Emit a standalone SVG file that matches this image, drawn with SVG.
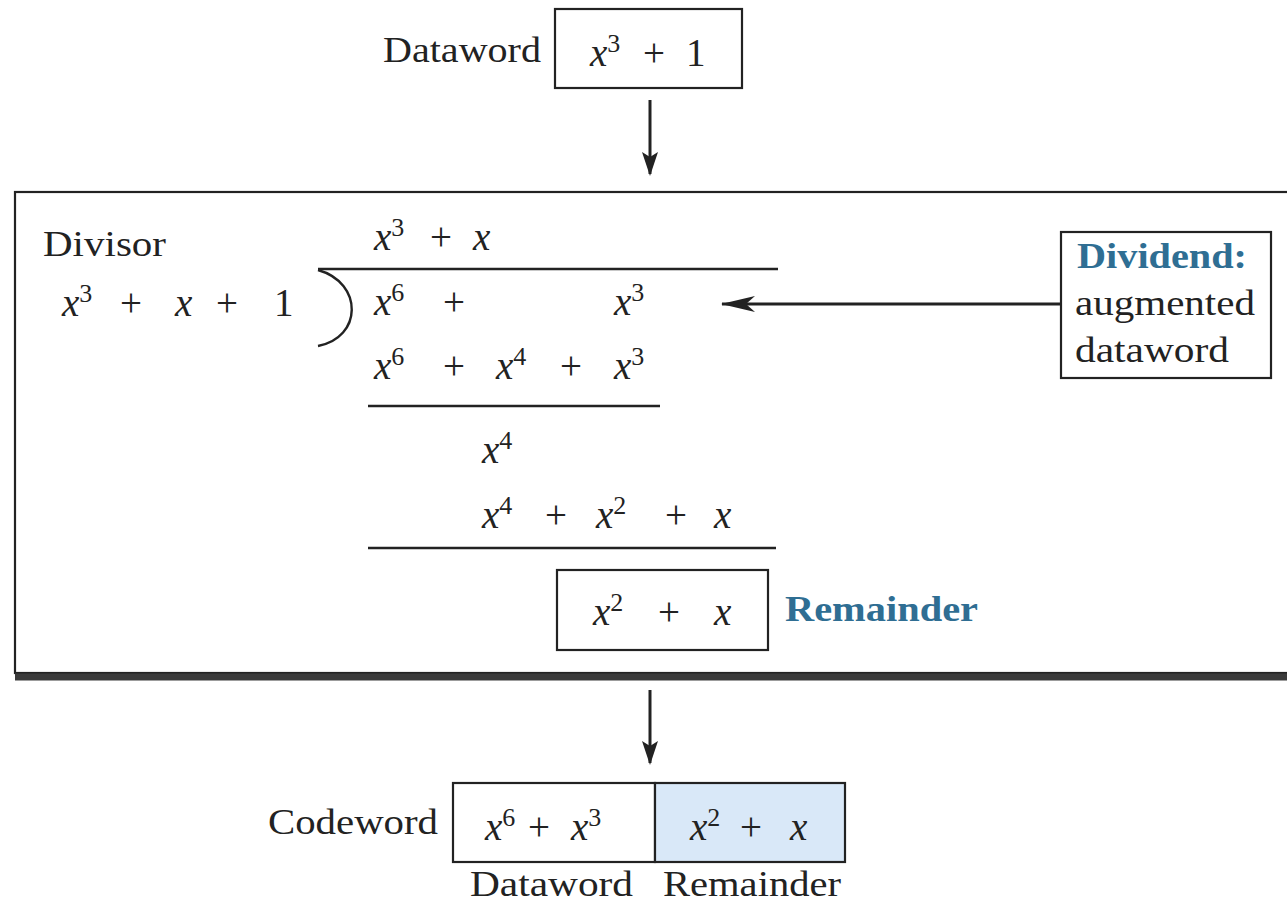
<svg xmlns="http://www.w3.org/2000/svg" width="1287" height="904" viewBox="0 0 1287 904">
  <defs>
    <style>
      .lbl { font-family: "Liberation Serif", "Times New Roman", serif; font-size: 36px; fill: #222222; }
      .hl { font-family: "Liberation Serif", "Times New Roman", serif; font-size: 36px; font-weight: bold; fill: #2f6e93; }
      .m { font-family: "Liberation Serif", "Times New Roman", serif; font-size: 39px; fill: #222222; }
      .v { font-style: italic; }
      .sup { font-size: 26px; }
      .box { fill: #ffffff; stroke: #222222; stroke-width: 2.2; }
      .rule { stroke: #222222; stroke-width: 2.4; fill: none; }
      .conn { stroke: #222222; stroke-width: 3; fill: none; }
    </style>
    <marker id="ah" viewBox="0 0 24 18" refX="22" refY="9" markerWidth="24" markerHeight="18" markerUnits="userSpaceOnUse" orient="auto">
      <path d="M0,1 L24,9 L0,17 L5,9 Z" fill="#222222"/>
    </marker>
    <marker id="ahl" viewBox="0 0 34 20" refX="33" refY="10" markerWidth="34" markerHeight="20" markerUnits="userSpaceOnUse" orient="auto">
      <path d="M0,2 L34,10 L0,18 L9,10 Z" fill="#222222"/>
    </marker>
  </defs>

  <rect width="1287" height="904" fill="#ffffff"/>

  <!-- input dataword -->
  <g id="dataword">
    <text class="lbl" x="383" y="62" textLength="158" lengthAdjust="spacingAndGlyphs">Dataword</text>
    <rect class="box" x="555" y="9" width="187" height="79"/>
    <text class="m" x="590" y="66"><tspan class="v">x</tspan><tspan class="sup" dy="-14">3</tspan><tspan dy="14" x="643">+</tspan><tspan x="686">1</tspan></text>
  </g>

  <!-- division panel -->
  <g id="division">
    <rect x="15" y="192" width="1290" height="481" fill="#ffffff" stroke="#222222" stroke-width="2.2"/>
    <line x1="15" y1="677" x2="1287" y2="677" stroke="#3a3a3a" stroke-width="7"/>

    <text class="lbl" x="43" y="256" textLength="123" lengthAdjust="spacingAndGlyphs">Divisor</text>
    <text class="m" x="62" y="316"><tspan class="v">x</tspan><tspan class="sup" dy="-14">3</tspan><tspan dy="14" x="120">+</tspan><tspan class="v" x="175">x</tspan><tspan x="216">+</tspan><tspan x="274">1</tspan></text>

    <!-- long-division bracket -->
    <path class="rule" d="M318,270 C364,283 362,338 318,346" stroke-width="3"/>
    <line class="rule" x1="318" y1="269" x2="778" y2="269"/>

    <!-- quotient -->
    <text class="m" x="374" y="250"><tspan class="v">x</tspan><tspan class="sup" dy="-14">3</tspan><tspan dy="14" x="430">+</tspan><tspan class="v" x="473">x</tspan></text>

    <!-- dividend row -->
    <text class="m" x="374" y="315"><tspan class="v">x</tspan><tspan class="sup" dy="-14">6</tspan><tspan dy="14" x="443">+</tspan><tspan class="v" x="614">x</tspan><tspan class="sup" dy="-14">3</tspan></text>

    <!-- first subtraction -->
    <text class="m" x="374" y="379"><tspan class="v">x</tspan><tspan class="sup" dy="-14">6</tspan><tspan dy="14" x="443">+</tspan><tspan class="v" x="496">x</tspan><tspan class="sup" dy="-14">4</tspan><tspan dy="14" x="560">+</tspan><tspan class="v" x="614">x</tspan><tspan class="sup" dy="-14">3</tspan></text>
    <line class="rule" x1="368" y1="406" x2="660" y2="406"/>

    <text class="m" x="482" y="463"><tspan class="v">x</tspan><tspan class="sup" dy="-14">4</tspan></text>

    <!-- second subtraction -->
    <text class="m" x="482" y="528"><tspan class="v">x</tspan><tspan class="sup" dy="-14">4</tspan><tspan dy="14" x="545">+</tspan><tspan class="v" x="596">x</tspan><tspan class="sup" dy="-14">2</tspan><tspan dy="14" x="665">+</tspan><tspan class="v" x="714">x</tspan></text>
    <line class="rule" x1="368" y1="548" x2="776" y2="548"/>
  </g>

  <g id="remainder">
    <rect class="box" x="557" y="570" width="211" height="80"/>
    <text class="m" x="593" y="625"><tspan class="v">x</tspan><tspan class="sup" dy="-14">2</tspan><tspan dy="14" x="658">+</tspan><tspan class="v" x="714">x</tspan></text>
    <text class="hl" x="785" y="621" textLength="193" lengthAdjust="spacingAndGlyphs">Remainder</text>
  </g>

  <g id="dividend">
    <rect class="box" x="1061" y="232" width="210" height="146"/>
    <text class="hl" x="1077" y="268" textLength="170" lengthAdjust="spacingAndGlyphs">Dividend:</text>
    <text class="lbl" x="1075" y="315" textLength="180" lengthAdjust="spacingAndGlyphs">augmented</text>
    <text class="lbl" x="1075" y="362" textLength="154" lengthAdjust="spacingAndGlyphs">dataword</text>
  </g>

  <g id="codeword">
    <text class="lbl" x="268" y="834" textLength="170" lengthAdjust="spacingAndGlyphs">Codeword</text>
    <rect class="box" x="453" y="783" width="202" height="79"/>
    <rect x="655" y="783" width="190" height="79" fill="#d9e8f8" stroke="#222222" stroke-width="2.2"/>
    <text class="m" x="485" y="840"><tspan class="v">x</tspan><tspan class="sup" dy="-14">6</tspan><tspan dy="14" x="528">+</tspan><tspan class="v" x="571">x</tspan><tspan class="sup" dy="-14">3</tspan></text>
    <text class="m" x="690" y="840"><tspan class="v">x</tspan><tspan class="sup" dy="-14">2</tspan><tspan dy="14" x="740">+</tspan><tspan class="v" x="790">x</tspan></text>
    <text class="lbl" x="470" y="896" textLength="163" lengthAdjust="spacingAndGlyphs">Dataword</text>
    <text class="lbl" x="663" y="896" textLength="178" lengthAdjust="spacingAndGlyphs">Remainder</text>
  </g>

  <g id="connectors">
    <line class="conn" x1="650" y1="100" x2="650" y2="174" marker-end="url(#ah)"/>
    <line class="conn" x1="1061" y1="304" x2="722" y2="304" marker-end="url(#ahl)" stroke-width="2.4"/>
    <line class="conn" x1="650" y1="690" x2="650" y2="763" marker-end="url(#ah)"/>
  </g>
</svg>
